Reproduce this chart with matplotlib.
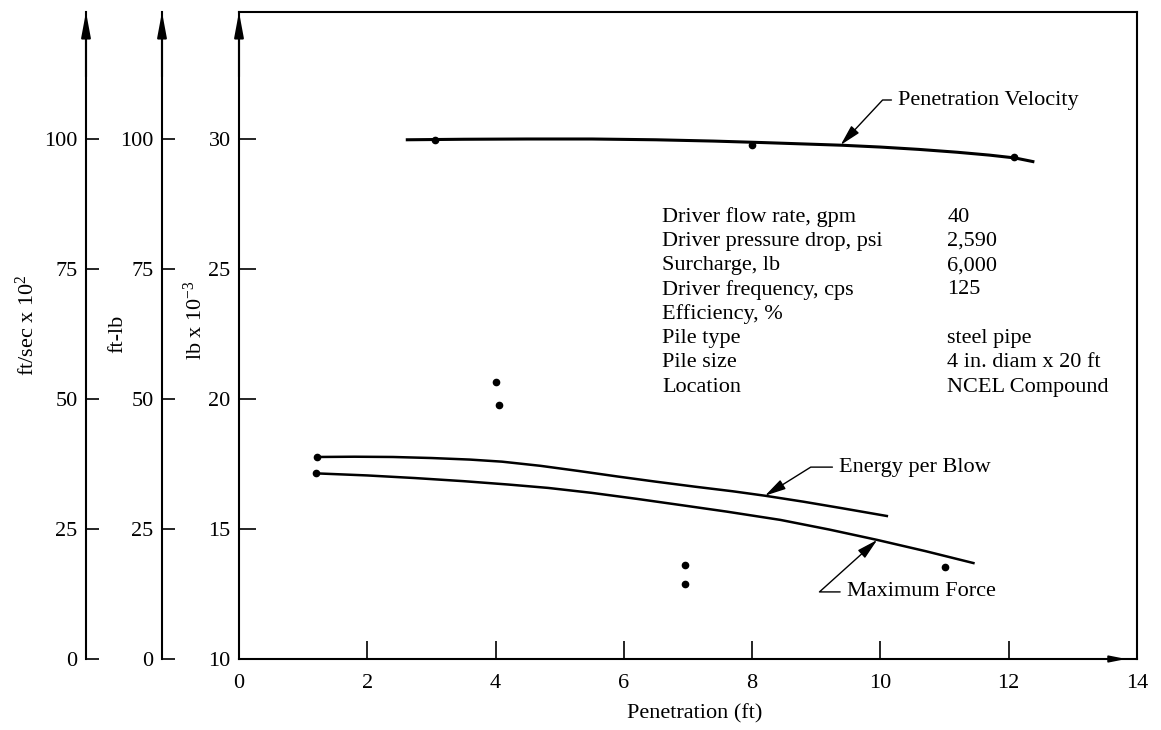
import numpy as np
import matplotlib
matplotlib.use("Agg")
import matplotlib.pyplot as plt

plt.rcParams['font.family'] = ['Liberation Serif', 'DejaVu Serif']
plt.rcParams['mathtext.fontset'] = 'custom'
plt.rcParams['mathtext.rm'] = 'Liberation Serif'
plt.rcParams['mathtext.it'] = 'Liberation Serif'

# curves (penetration ft, value on lb x 10^-3 scale)
vel_x = [2.6, 3.5, 4.5, 5.5, 6.5, 7.4, 8.2, 8.8, 9.4, 10.0, 10.6, 11.2,
         11.7, 12.1, 12.4]
vel_y = [29.97, 29.99, 30.0, 30.0, 29.97, 29.92, 29.86, 29.81, 29.76, 29.69,
         29.6, 29.49, 29.38, 29.27, 29.12]
vel_pts_x = [3.05, 8.0, 12.08]
vel_pts_y = [29.96, 29.78, 29.3]

energy_x = [1.22, 1.8, 2.4, 3.0, 3.6, 4.1, 4.7, 5.3, 5.9, 6.5, 7.1, 7.7,
            8.2, 8.8, 9.4, 10.1]
energy_y = [17.77, 17.78, 17.77, 17.73, 17.67, 17.59, 17.43, 17.23, 17.02,
            16.82, 16.63, 16.45, 16.28, 16.05, 15.8, 15.5]

force_x = [1.2, 2.0, 2.74, 3.5, 4.2, 4.82, 5.5, 6.2, 6.89, 7.6, 8.44, 9.2,
           9.95, 10.7, 11.45]
force_y = [17.14, 17.06, 16.96, 16.84, 16.71, 16.58, 16.39, 16.16, 15.92,
           15.67, 15.35, 14.98, 14.58, 14.15, 13.69]

pts_x = [1.22, 1.2, 4.01, 4.06, 6.96, 6.96, 11.01]
pts_y = [17.77, 17.14, 20.65, 19.77, 13.62, 12.88, 13.53]

info_labels = ["Driver flow rate, gpm", "Driver pressure drop, psi",
               "Surcharge, lb", "Driver frequency, cps", "Efficiency, %",
               "Pile type", "Pile size", "Location"]
info_values = ["40", "2,590", "6,000", "125", "",
               "steel pipe", "4 in. diam x 20 ft", "NCEL Compound"]

x_ticks = [0, 2, 4, 6, 8, 10, 12, 14]
lb_ticks = [10, 15, 20, 25, 30]
left_ticks = [0, 25, 50, 75, 100]

W, H = 1161, 730
fig = plt.figure(figsize=(W / 100, H / 100), dpi=100)
fs = 16

bottom = (H - 659) / H
top = (H - 12) / H
ax = fig.add_axes([239 / W, bottom, (1137 - 239) / W, top - bottom])
ax.set_xlim(0, 14)
ax.set_ylim(10, 10 + (659 - 12) / 26)
for s in ax.spines.values():
  s.set_linewidth(1.5)
ax.set_xticks(x_ticks)
ax.set_yticks(lb_ticks)
ax.tick_params(axis='x', direction='in', length=13, width=1.2, pad=11,
               labelsize=fs)
ax.tick_params(axis='y', direction='in', length=12, width=1.2, pad=6,
               labelsize=fs)
# corner ticks shown only as labels
ax.xaxis.get_major_ticks()[0].tick1line.set_visible(False)
ax.xaxis.get_major_ticks()[-1].tick1line.set_visible(False)
ax.yaxis.get_major_ticks()[0].tick1line.set_visible(False)

# vertical arrow on lb axis, arrow on x axis
ax.annotate('', xy=(0, 1.0), xytext=(0, 0.9), xycoords='axes fraction',
            arrowprops=dict(arrowstyle='-|>,head_length=1.5,head_width=0.28',
                            color='black', lw=1.5, shrinkA=0, shrinkB=0))
ax.annotate('', xy=(0.988, 0), xytext=(0.95, 0), xycoords='axes fraction',
            arrowprops=dict(arrowstyle='-|>,head_length=1.0,head_width=0.2',
                            color='black', lw=1.2, shrinkA=0, shrinkB=0))

ax.plot(vel_x, vel_y, color='black', lw=2.2, solid_capstyle='butt')
ax.plot(energy_x, energy_y, color='black', lw=1.8)
ax.plot(force_x, force_y, color='black', lw=1.8)
ax.plot(vel_pts_x, vel_pts_y, 'o', color='black', ms=4.5)
ax.plot(pts_x, pts_y, 'o', color='black', ms=4.5)

arrow_kw = dict(arrowstyle='-|>,head_length=0.8,head_width=0.2', color='black',
                lw=1.0, shrinkA=3, shrinkB=0)
ax.annotate('Penetration Velocity', xy=(9.38, 29.77), xytext=(10.28, 31.5),
            fontsize=fs, va='center', ha='left',
            arrowprops=dict(connectionstyle='angle,angleA=0,angleB=47,rad=0',
                            relpos=(0, 0.5), **arrow_kw))
ax.annotate('Energy per Blow', xy=(8.2, 16.28), xytext=(9.36, 17.38),
            fontsize=fs, va='center', ha='left',
            arrowprops=dict(connectionstyle='angle,angleA=0,angleB=32,rad=0',
                            relpos=(0, 0.5), **arrow_kw))
ax.annotate('Maximum Force', xy=(9.95, 14.58), xytext=(9.48, 12.58),
            fontsize=fs, va='center', ha='left',
            arrowprops=dict(connectionstyle='angle,angleA=0,angleB=42,rad=0',
                            relpos=(0, 0.5), **arrow_kw))

for i, (lab, val) in enumerate(zip(info_labels, info_values)):
  y = 27.0 - i * 0.935
  ax.text(6.6, y, lab, fontsize=fs, va='center', ha='left')
  ax.text(11.04, y, val, fontsize=fs, va='center', ha='left')

ax.set_xlabel('Penetration (ft)', fontsize=fs)
ax.xaxis.set_label_coords((695 - 239) / (1137 - 239), -0.07)

# two extra left scales
for xpix in [86, 162]:
  la = fig.add_axes([xpix / W, bottom, 0.01, top - bottom])
  la.set_ylim(0, (659 - 12) / 5.2)
  la.set_yticks(left_ticks)
  la.set_xticks([])
  la.patch.set_visible(False)
  for k in ['top', 'right', 'bottom']:
    la.spines[k].set_visible(False)
  la.spines['left'].set_linewidth(1.5)
  la.tick_params(axis='y', direction='in', length=9, width=1.2, pad=6,
                 labelsize=fs)
  la.annotate('', xy=(0, 1.0), xytext=(0, 0.9), xycoords='axes fraction',
              arrowprops=dict(arrowstyle='-|>,head_length=1.5,head_width=0.28',
                              color='black', lw=1.5, shrinkA=0, shrinkB=0))

fig.text(27 / W, (H - 325) / H, r'ft/sec x 10$^{2}$', rotation=90,
         fontsize=fs, ha='center', va='center')
fig.text(118 / W, (H - 334) / H, 'ft-lb', rotation=90,
         fontsize=fs, ha='center', va='center')
fig.text(195 / W, (H - 320) / H, r'lb x 10$^{-3}$', rotation=90,
         fontsize=fs, ha='center', va='center')

fig.savefig('out.png', dpi=100)
